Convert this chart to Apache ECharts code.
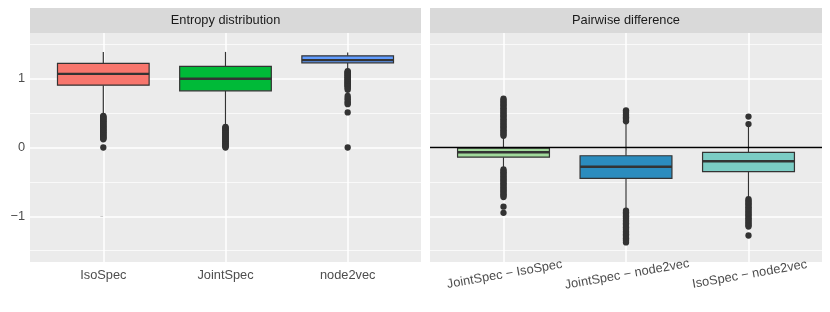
<!DOCTYPE html>
<html>
<head>
<meta charset="utf-8">
<script src="https://cdn.jsdelivr.net/npm/echarts@6/dist/echarts.min.js"></script>
<style>
html,body{margin:0;padding:0;background:#fff;}
#chart{width:830px;height:312px;}
</style>
</head>
<body>
<div id="chart"></div>
<script>
// ---------- DATA ----------
const panelTitles = ['Entropy distribution', 'Pairwise difference'];
const leftCategories = ['IsoSpec', 'JointSpec', 'node2vec'];
const rightCategories = ['JointSpec − IsoSpec', 'JointSpec − node2vec', 'IsoSpec − node2vec'];
// [whiskerLow, Q1, median, Q3, whiskerHigh]
const leftBoxes = [
  [0.48, 0.907, 1.071, 1.223, 1.39],
  [0.32, 0.824, 1.000, 1.180, 1.39],
  [1.12, 1.232, 1.270, 1.333, 1.38]
];
const rightBoxes = [
  [-0.31, -0.14, -0.07, -0.01, 0.155],
  [-0.89, -0.45, -0.28, -0.12, 0.37],
  [-0.73, -0.35, -0.20, -0.07, 0.30]
];
const leftOutliers = [
  [0.46,0.45,0.44,0.43,0.42,0.41,0.40,0.39,0.38,0.37,0.36,0.35,0.34,0.33,0.32,0.31,0.30,0.29,0.28,0.27,0.26,0.25,0.24,0.23,0.22,0.21,0.20,0.19,0.18,0.17,0.16,0.15,0.14,0.13,0.12,0.00],
  [0.30,0.29,0.28,0.27,0.26,0.25,0.24,0.23,0.22,0.21,0.20,0.19,0.18,0.17,0.16,0.15,0.14,0.13,0.12,0.11,0.10,0.09,0.08,0.07,0.06,0.05,0.04,0.03,0.02,0.01,0.00],
  [1.11,1.10,1.09,1.08,1.07,1.06,1.05,1.04,1.03,1.02,1.01,1.00,0.99,0.98,0.97,0.96,0.95,0.94,0.93,0.92,0.91,0.90,0.89,0.88,0.86,0.84,0.75,0.72,0.70,0.67,0.65,0.63,0.51,0.00]
];
const rightOutliers = [
  [0.71,0.69,0.67,0.65,0.63,0.61,0.59,0.57,0.55,0.53,0.51,0.49,0.47,0.45,0.43,0.41,0.39,0.37,0.35,0.33,0.31,0.29,0.27,0.25,0.23,0.21,0.19,0.17,
   -0.32,-0.34,-0.36,-0.38,-0.40,-0.42,-0.44,-0.46,-0.48,-0.50,-0.52,-0.54,-0.56,-0.58,-0.60,-0.62,-0.64,-0.66,-0.68,-0.70,-0.72,-0.86,-0.95],
  [0.54,0.52,0.50,0.48,0.46,0.44,0.42,0.40,0.38,
   -0.92,-0.94,-0.96,-0.98,-1.00,-1.02,-1.04,-1.06,-1.08,-1.10,-1.12,-1.14,-1.16,-1.18,-1.20,-1.22,-1.24,-1.26,-1.28,-1.30,-1.32,-1.34,-1.36,-1.38],
  [0.45,0.34,
   -0.75,-0.77,-0.79,-0.81,-0.83,-0.85,-0.87,-0.89,-0.91,-0.93,-0.95,-0.97,-0.99,-1.01,-1.03,-1.05,-1.07,-1.09,-1.11,-1.13,-1.15,-1.28]
];
const yTicks = [-1, 0, 1];
const yTickLabels = ['−1', '0', '1'];
const yMinor = [-1.5, -0.5, 0.5, 1.5];
const yRange = [-1.665, 1.665];
const refLineValue = 0;

// ---------- STYLE ----------
const leftColors = ['#F8766D', '#00BA38', '#619CFF'];
const rightColors = ['#a1d99b', '#2b8cbe', '#7bccc4'];
const FONT = 'Liberation Sans, Arial, sans-serif';
const FS = 12.8;
const panelTop = 33, panelH = 229;
const panels = [{left: 30, width: 391}, {left: 430, width: 392}];

function boxData(boxes) {
  return boxes.map((b, i) => [i].concat(b));
}
function outlierData(outs) {
  const res = [];
  outs.forEach((arr, i) => arr.forEach(v => res.push([i, v])));
  return res;
}
function makeRender(colors) {
  return function (params, api) {
    const x = api.value(0);
    const lo = api.coord([x, api.value(1)]);
    const q1 = api.coord([x, api.value(2)]);
    const md = api.coord([x, api.value(3)]);
    const q3 = api.coord([x, api.value(4)]);
    const hi = api.coord([x, api.value(5)]);
    const hw = api.size([0.75, 0])[0] / 2;
    const ls = {stroke: '#333333', lineWidth: 1.2};
    return {
      type: 'group',
      children: [
        {type: 'line', shape: {x1: lo[0], y1: lo[1], x2: q1[0], y2: q1[1]}, style: ls},
        {type: 'line', shape: {x1: q3[0], y1: q3[1], x2: hi[0], y2: hi[1]}, style: ls},
        {type: 'rect', shape: {x: q3[0] - hw, y: q3[1], width: 2 * hw, height: q1[1] - q3[1]},
          style: {fill: colors[params.dataIndex], stroke: '#333333', lineWidth: 1.2}},
        {type: 'line', shape: {x1: md[0] - hw, y1: md[1], x2: md[0] + hw, y2: md[1]},
          style: {stroke: '#333333', lineWidth: 2.4}}
      ]
    };
  };
}

const grids = panels.map(p => ({
  left: p.left, width: p.width, top: panelTop, height: panelH,
  show: true, backgroundColor: '#ebebeb', borderWidth: 0
}));

function xAxisFor(idx, cats, rotated) {
  return {
    type: 'value', gridIndex: idx, min: -0.6, max: 2.6,
    axisLine: {show: false},
    splitLine: {show: false},
    axisTick: {show: true, customValues: [0, 1, 2], length: 3, lineStyle: {color: '#333333', width: 1}},
    axisLabel: {
      show: true, customValues: [0, 1, 2],
      formatter: v => cats[Math.round(v)],
      color: '#4d4d4d', fontSize: FS, fontFamily: FONT,
      margin: rotated ? 6 : 7,
      rotate: rotated ? 10 : 0,
      align: 'center',
      verticalAlign: 'top'
    }
  };
}
function yAxisFor(idx, showLabels) {
  return {
    type: 'value', gridIndex: idx, min: yRange[0], max: yRange[1],
    axisLine: {show: false},
    splitLine: {show: false},
    axisTick: {show: showLabels, customValues: yTicks, length: 3, lineStyle: {color: '#333333', width: 1}},
    axisLabel: {
      show: showLabels, customValues: yTicks,
      formatter: v => yTickLabels[yTicks.indexOf(Math.round(v))],
      color: '#4d4d4d', fontSize: FS, fontFamily: FONT, margin: 5
    }
  };
}

function gridLineSeries(idx) {
  const data = [];
  yTicks.forEach(v => data.push({yAxis: v, lineStyle: {color: '#ffffff', width: 1.5, type: 'solid'}}));
  yMinor.forEach(v => data.push({yAxis: v, lineStyle: {color: '#ffffff', width: 0.7, type: 'solid'}}));
  [0, 1, 2].forEach(v => data.push({xAxis: v, lineStyle: {color: '#ffffff', width: 1.5, type: 'solid'}}));
  return {
    type: 'line', xAxisIndex: idx, yAxisIndex: idx, data: [], z: 1, silent: true,
    showSymbol: false, emphasis: {disabled: true},
    markLine: {silent: true, symbol: 'none', z: 1, label: {show: false}, animation: false,
      emphasis: {disabled: true}, data: data}
  };
}

const series = [
  gridLineSeries(0),
  gridLineSeries(1),
  {type: 'custom', xAxisIndex: 0, yAxisIndex: 0, z: 3, renderItem: makeRender(leftColors),
    data: boxData(leftBoxes), encode: {x: 0, y: [1, 2, 3, 4, 5]}},
  {type: 'custom', xAxisIndex: 1, yAxisIndex: 1, z: 3, renderItem: makeRender(rightColors),
    data: boxData(rightBoxes), encode: {x: 0, y: [1, 2, 3, 4, 5]}},
  {type: 'scatter', xAxisIndex: 0, yAxisIndex: 0, z: 4, symbolSize: 6.3,
    itemStyle: {color: '#333333', opacity: 1}, data: outlierData(leftOutliers)},
  {type: 'scatter', xAxisIndex: 1, yAxisIndex: 1, z: 4, symbolSize: 6.3,
    itemStyle: {color: '#333333', opacity: 1}, data: outlierData(rightOutliers)},
  {type: 'line', xAxisIndex: 1, yAxisIndex: 1, data: [], z: 10, silent: true,
    showSymbol: false, emphasis: {disabled: true},
    markLine: {silent: true, symbol: 'none', z: 10, label: {show: false}, animation: false,
      emphasis: {disabled: true},
      data: [{yAxis: refLineValue, lineStyle: {color: '#000000', width: 1.4, type: 'solid'}}]}}
];

const graphics = [];
panels.forEach((p, i) => {
  graphics.push({type: 'rect', left: p.left, top: 8, shape: {width: p.width, height: 25},
    style: {fill: '#d9d9d9'}, z: 0});
  graphics.push({type: 'text', x: p.left + p.width / 2, y: 20.5,
    style: {text: panelTitles[i], fill: '#1a1a1a', font: FS + 'px ' + FONT, textAlign: 'center', textVerticalAlign: 'middle'}, z: 1});
});

const chart = echarts.init(document.getElementById('chart'), null, {renderer: 'canvas'});
chart.setOption({
  animation: false,
  backgroundColor: '#ffffff',
  tooltip: {show: false},
  grid: grids,
  xAxis: [xAxisFor(0, leftCategories, false), xAxisFor(1, rightCategories, true)],
  yAxis: [yAxisFor(0, true), yAxisFor(1, false)],
  series: series,
  graphic: graphics
});
</script>
</body>
</html>
